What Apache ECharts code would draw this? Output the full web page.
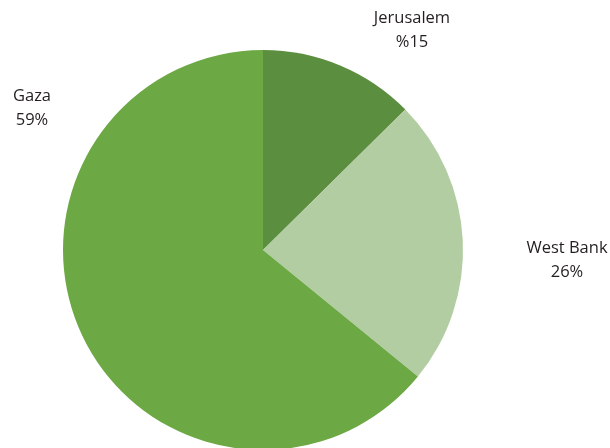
<!DOCTYPE html>
<html>
<head>
<meta charset="utf-8">
<script src="https://cdn.jsdelivr.net/npm/echarts@6/dist/echarts.min.js"></script>
<style>
html,body{margin:0;padding:0;background:#fff;}
#chart{width:610px;height:448px;}
</style>
</head>
<body>
<div id="chart"></div>
<script>
const regions = ["Jerusalem", "West Bank", "Gaza"];
const shares = [12.6, 23.3, 64.1];
const shareLabels = ["%15", "26%", "59%"];

const sliceColors = ["#5b8e3e", "#b3cda3", "#6ca844"];
const labelAnchors = [[412, 30], [567, 260], [32, 108]];

const chart = echarts.init(document.getElementById('chart'), null, {renderer: 'canvas'});
chart.setOption({
  animation: false,
  backgroundColor: '#ffffff',
  series: [{
    type: 'pie',
    center: [263, 250],
    radius: [0, 200],
    startAngle: 90,
    clockwise: true,
    silent: true,
    avoidLabelOverlap: false,
    data: regions.map((n, i) => ({
      name: n,
      value: shares[i],
      itemStyle: {color: sliceColors[i]}
    })),
    itemStyle: {borderWidth: 0},
    label: {
      show: true,
      position: 'outside',
      overflow: 'none',
      formatter: p => p.name + '\n' + shareLabels[p.dataIndex],
      fontFamily: '"Open Sans", Lato, sans-serif',
      fontSize: 16.5,
      lineHeight: 24,
      color: '#231f20',
      align: 'center'
    },
    labelLine: {show: false},
    labelLayout: function (params) {
      const a = labelAnchors[params.dataIndex];
      return {x: a[0], y: a[1], align: 'center', verticalAlign: 'middle'};
    }
  }]
});
</script>
</body>
</html>
